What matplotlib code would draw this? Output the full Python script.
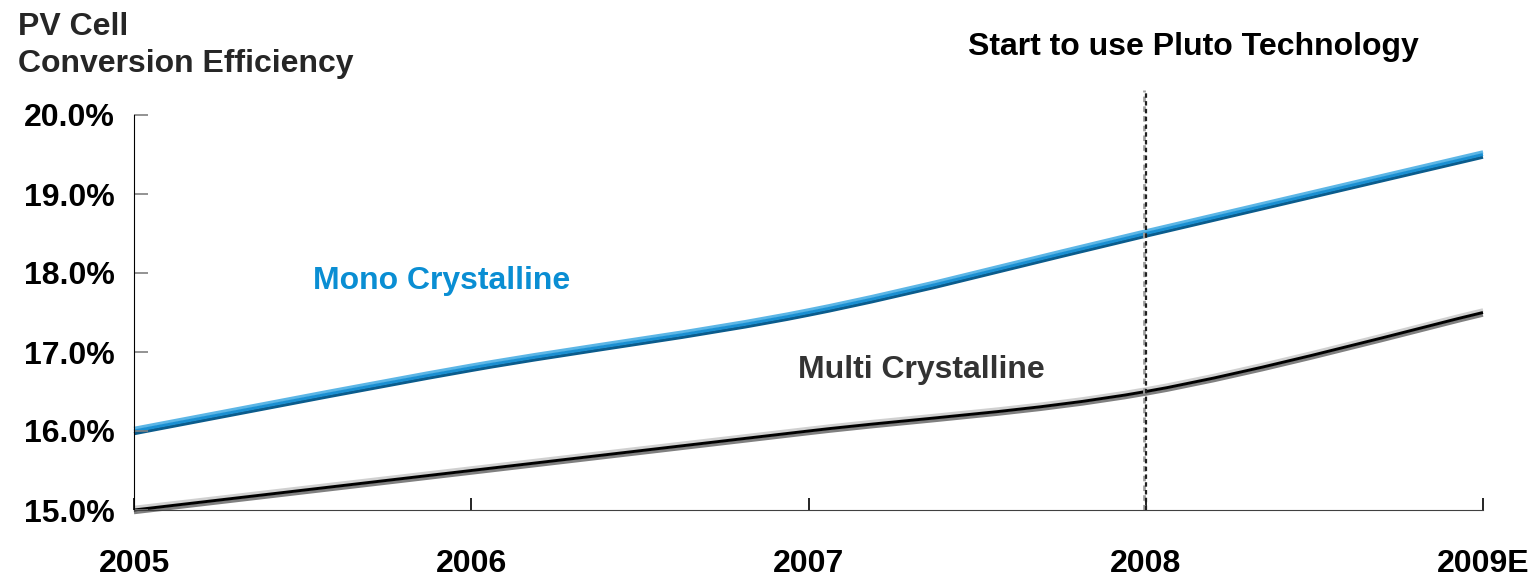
import numpy as np
import matplotlib.pyplot as plt
import matplotlib.transforms as mtransforms
from matplotlib.path import Path
from matplotlib.patches import PathPatch

plt.rcParams['font.family'] = ['Liberation Sans', 'DejaVu Sans']
plt.rcParams['font.weight'] = 'bold'

years = ['2005', '2006', '2007', '2008', '2009E']
mono = [16.0, 16.8, 17.5, 18.5, 19.5]
multi = [15.0, 15.5, 16.0, 16.5, 17.5]
yticks = [15.0, 16.0, 17.0, 18.0, 19.0, 20.0]

x = np.arange(len(years))
FS = 23

fig = plt.figure(figsize=(15.35, 5.76), dpi=100)
ax = fig.add_axes([134/1535, 1 - 510/576, 1349/1535, 395/576])


def smooth_path(xs, ys):
    # excel-style smoothed line: cubic bezier segments through the data points
    xs = np.asarray(xs, float)
    ys = np.asarray(ys, float)
    n = len(xs)
    verts = [(xs[0], ys[0])]
    codes = [Path.MOVETO]
    for i in range(n - 1):
        i0 = max(i - 1, 0)
        i3 = min(i + 2, n - 1)
        c1 = (xs[i] + (xs[i + 1] - xs[i0]) / 6, ys[i] + (ys[i + 1] - ys[i0]) / 6)
        c2 = (xs[i + 1] - (xs[i3] - xs[i]) / 6, ys[i + 1] - (ys[i3] - ys[i]) / 6)
        verts += [c1, c2, (xs[i + 1], ys[i + 1])]
        codes += [Path.CURVE4] * 3
    return Path(verts, codes)


def layered(ax, xs, ys, colors, offsets, widths):
    # fake 3D look: several strokes shifted a few pixels up/down
    p = smooth_path(xs, ys)
    for c, off, w in zip(colors, offsets, widths):
        tr = mtransforms.offset_copy(ax.transData, fig=fig, x=0, y=off, units='dots')
        ax.add_patch(PathPatch(p, facecolor='none', edgecolor=c, lw=w,
                               transform=tr, capstyle='butt', clip_on=False))


layered(ax, x, multi, ['#808080', '#d0d0d0', '#000000'], [-2.6, 2.6, 0], [2.4, 2.4, 2.1])
layered(ax, x, mono, ['#0b5c8c', '#5cb6e6', '#1a8fd2'], [-2.6, 2.6, 0], [2.4, 2.4, 2.1])

# vertical marker at 2008
tr = mtransforms.offset_copy(ax.transData, fig=fig, x=-2, y=0, units='dots')
ax.plot([3, 3], [15.0, 20.32], color='#a0a0a0', lw=2, ls=(0, (2, 1.5)), transform=tr, clip_on=False)
ax.plot([3, 3], [15.0, 20.32], color='#202020', lw=1.6, ls=(0, (2, 1.5)), clip_on=False)

ax.set_xlim(0, 4)
ax.set_ylim(15.0, 20.0)
ax.set_xticks(x)
ax.set_xticklabels(years)
ax.set_yticks(yticks)
ax.set_yticklabels(['%.1f%%' % v for v in yticks])
ax.tick_params(axis='x', direction='in', length=9, width=1.2, pad=28, labelsize=FS, colors='black')
ax.tick_params(axis='y', direction='in', length=10, width=1.2, pad=14, labelsize=FS,
               color='#808080', labelcolor='black')
for lab in ax.get_xticklabels() + ax.get_yticklabels():
    lab.set_fontweight('bold')

ax.spines['top'].set_visible(False)
ax.spines['right'].set_visible(False)
ax.spines['left'].set_color('black')
ax.spines['bottom'].set_color('#404040')

fig.text(18/1535, 1 - 12/576, 'PV Cell\nConversion Efficiency', ha='left', va='top',
         fontsize=FS, fontweight='bold', color='#262626', linespacing=1.3)
fig.text(1193/1535, 1 - 47/576, 'Start to use Pluto Technology', ha='center', va='center',
         fontsize=FS, fontweight='bold', color='black')
ax.text(0.53, 17.9, 'Mono Crystalline', ha='left', va='center', fontsize=FS,
        fontweight='bold', color='#0a8ed3')
ax.text(1.97, 16.77, 'Multi Crystalline', ha='left', va='center', fontsize=FS,
        fontweight='bold', color='#333333')

fig.savefig('out.png', dpi=100)
